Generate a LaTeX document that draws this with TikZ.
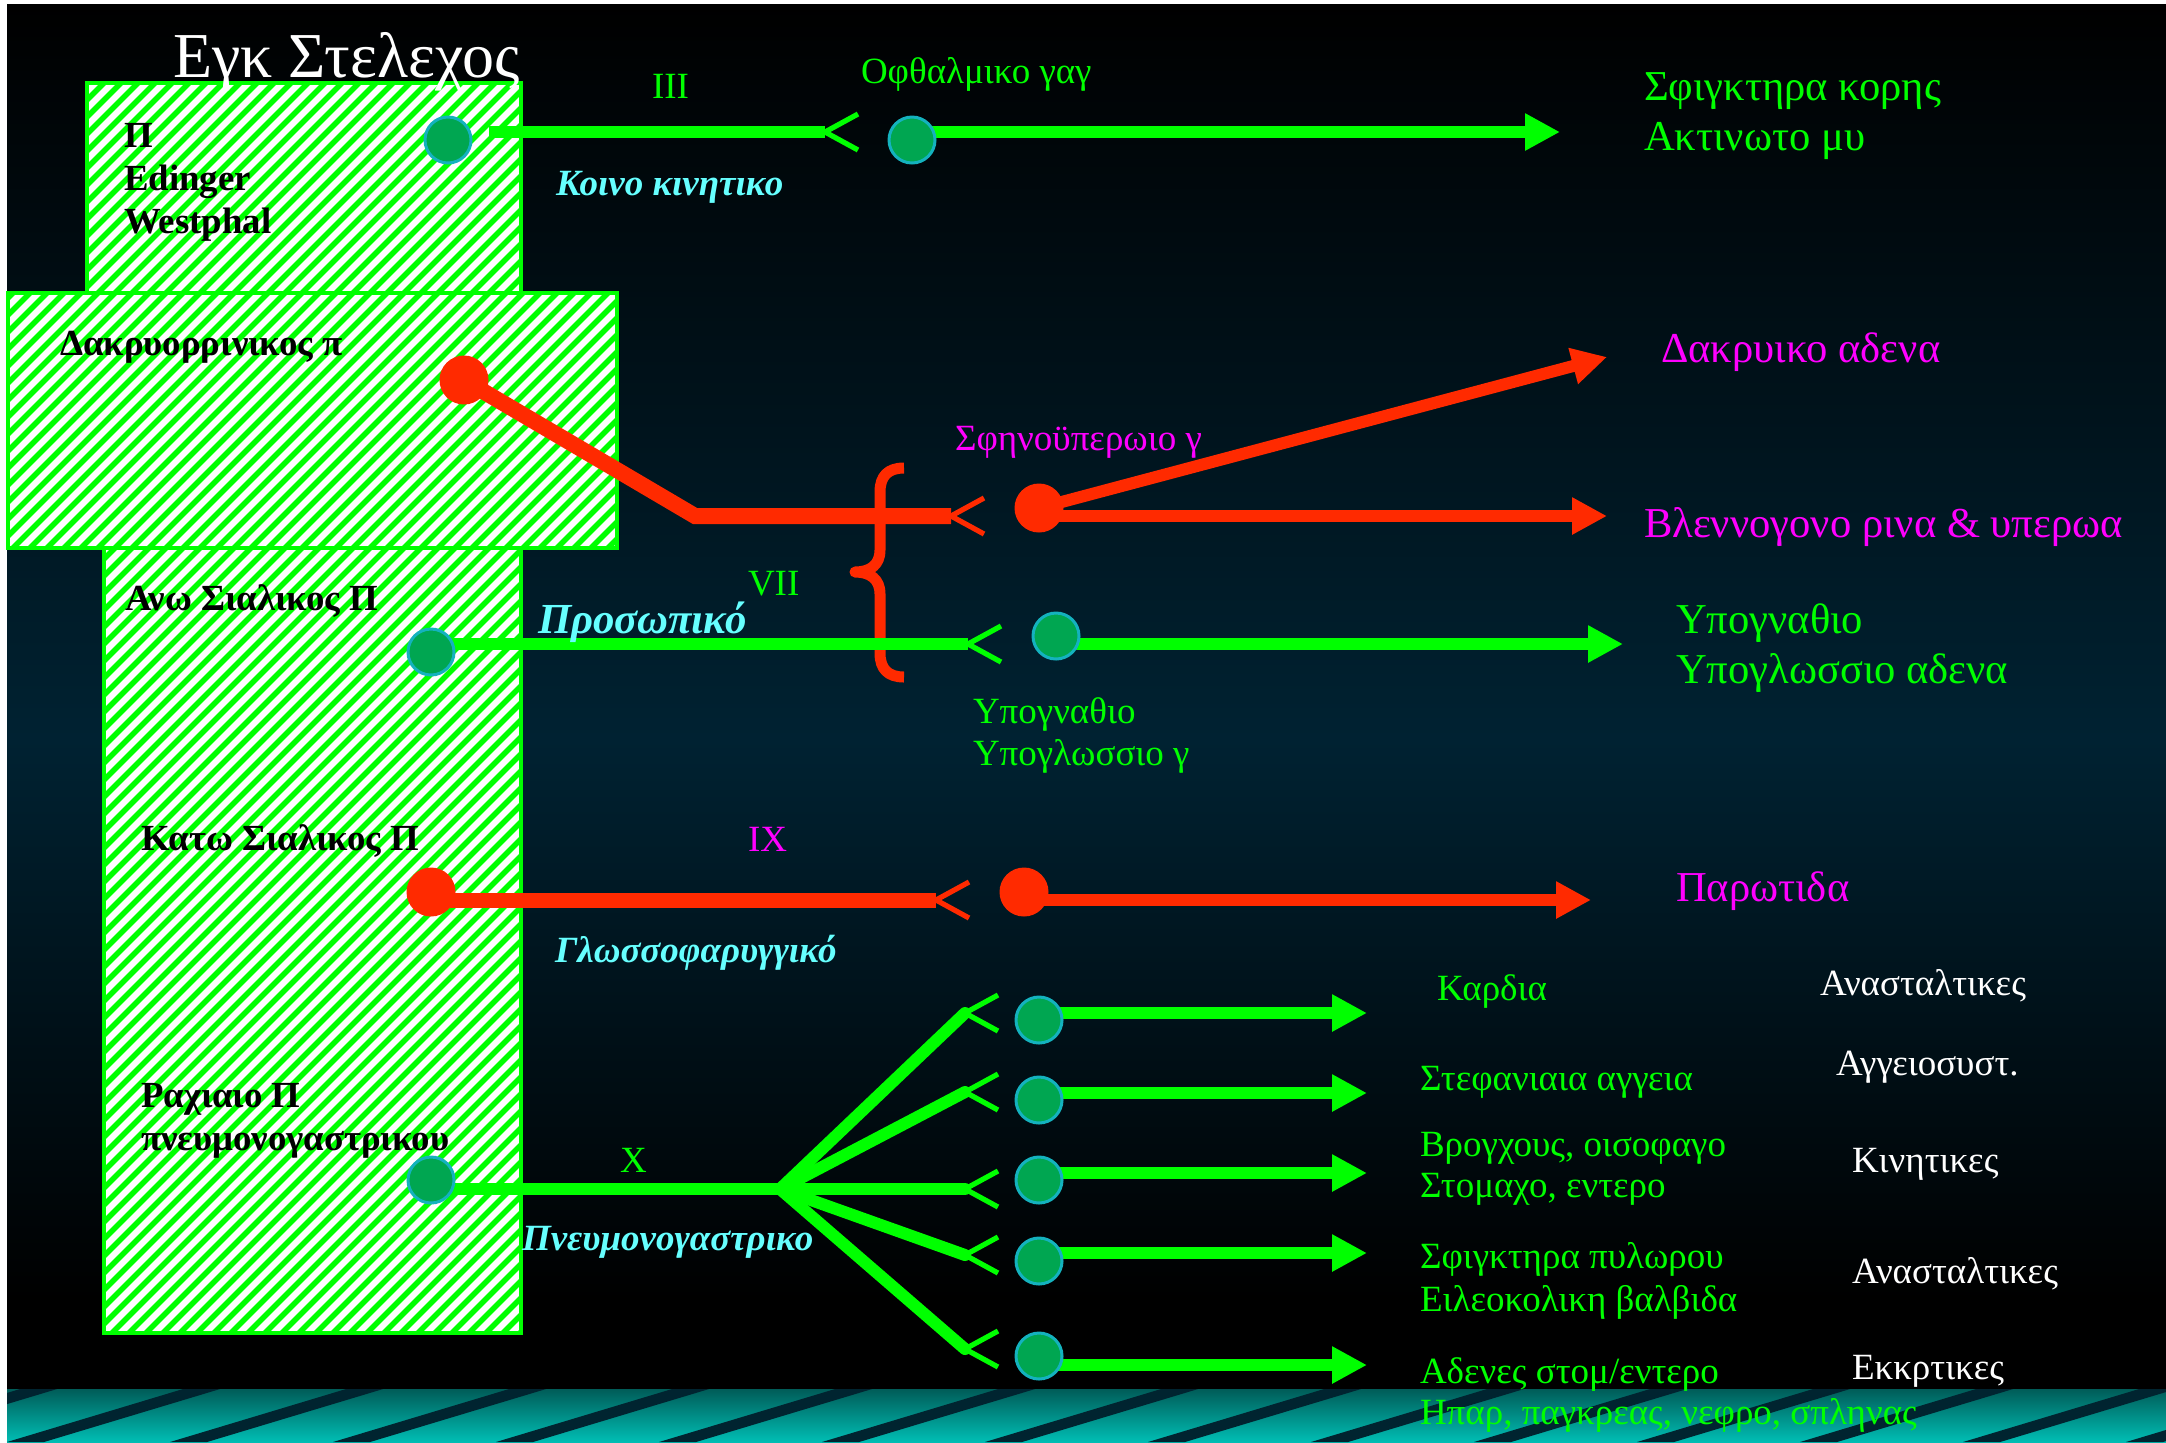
\documentclass[tikz,border=0pt]{standalone}
\usepackage{fontspec}
\setmainfont{Liberation Serif}
\usetikzlibrary{arrows.meta}
\definecolor{ngreen}{RGB}{0,255,0}
\definecolor{gfill}{RGB}{0,166,81}
\definecolor{gedge}{RGB}{20,178,190}
\definecolor{nred}{RGB}{255,42,0}
\definecolor{nmag}{RGB}{255,0,255}
\definecolor{ncyan}{RGB}{102,255,255}
\definecolor{bgmid}{RGB}{0,34,50}
\definecolor{bandtop}{RGB}{0,92,88}
\definecolor{bandbot}{RGB}{0,190,180}
\definecolor{stripecol}{RGB}{0,36,48}
\newcommand\myfs[1]{\fontsize{#1}{#1}\selectfont}
\newcommand\synapse[2]{\draw[#1] ([shift={(33,-18)}]#2) -- (#2) -- ([shift={(33,18)}]#2);}
\pgfdeclarelayer{bg}
\pgfdeclarelayer{wires}
\pgfsetlayers{bg,wires,main}
\tikzset{
 lbl/.style={anchor=base west, inner sep=0pt, outer sep=0pt},
 bk/.style={lbl, font={\myfs{18.4pt}\bfseries}, text=black},
 gsm/.style={lbl, font={\myfs{18.5pt}}, text=ngreen},
 msm/.style={lbl, font={\myfs{18.5pt}}, text=nmag},
 gbig/.style={lbl, font={\myfs{21.3pt}}, text=ngreen},
 mbig/.style={lbl, font={\myfs{21.3pt}}, text=nmag},
 cy/.style={lbl, font={\myfs{18.5pt}\bfseries\itshape}, text=ncyan},
 wt/.style={lbl, font={\myfs{18.5pt}}, text=white},
 gdot/.style={circle, inner sep=0pt, minimum size=23pt, fill=gfill, draw=gedge, line width=1.5pt},
 rdot/.style={circle, inner sep=0pt, minimum size=24.5pt, fill=nred},
 gax/.style={draw=ngreen, line width=5.75pt},
 rax/.style={draw=nred, line width=5.75pt},
 tipA/.style={-{Triangle[length=17.5pt,width=17.5pt]}},
 syng/.style={draw=ngreen, line width=2.6pt},
 synr/.style={draw=nred, line width=2.6pt},
 hatchborder/.style={draw=ngreen, line width=1.75pt},
}
\begin{document}
\begin{tikzpicture}[x=0.5pt,y=-0.5pt]
\useasboundingbox (0,0) rectangle (2166,1442);
\begin{pgfonlayer}{bg}
\fill[white] (0,0) rectangle (2166,1442);
\shade[top color=black,bottom color=bgmid] (7,4) rectangle (2166,740);
\shade[top color=bgmid,bottom color=black] (7,739) rectangle (2166,1300);
\fill[black] (7,1299) rectangle (2166,1389);
\shade[top color=bandtop,bottom color=bandbot] (7,1389) rectangle (2166,1442);
\begin{scope}
\clip (7,1389) rectangle (2166,1442);
\foreach \k in {-2,...,14}{
 \fill[stripecol] ({7+163*\k},1442) -- ++(37,0) -- ++(176,-53) -- ++(-37,0) -- cycle;
}
\end{scope}
% hatched cross shape
\begin{scope}
\clip (87,83) rectangle (521,293) (8,293) rectangle (617,548) (104,548) rectangle (521,1333);
\fill[white] (0,0) rectangle (700,1400);
\foreach \s in {0,17,...,2000} \draw[ngreen,line width=2.8pt] ({\s-1400},1400) -- (\s,0);
\end{scope}
\draw[hatchborder] (87,83) rectangle (521,293);
\draw[hatchborder] (8,293) rectangle (617,548);
\draw[hatchborder] (104,548) rectangle (521,1333);
\end{pgfonlayer}

% ganglia and nuclei
\node[gdot] (d1) at (448,140) {};
\node[gdot] (d2) at (912,140) {};
\node[rdot] (r1) at (464,380) {};
\node[rdot] (r2) at (1039,508) {};
\node[gdot] (d3) at (431,652) {};
\node[gdot] (d4) at (1056,636) {};
\node[rdot] (r3) at (431,892) {};
\node[rdot] (r4) at (1024,892) {};
\node[gdot] (d5) at (431,1180) {};
\node[gdot] (g1) at (1039,1020) {};
\node[gdot] (g2) at (1039,1100) {};
\node[gdot] (g3) at (1039,1180) {};
\node[gdot] (g4) at (1039,1261) {};
\node[gdot] (g5) at (1039,1356) {};

% connector points
\coordinate (d1o) at ([xshift=8pt]d1.east);
\coordinate (s1) at (825,132);
\coordinate (t1) at (1560,132);
\coordinate (b1) at (695,516);
\coordinate (s2) at (951,516);
\coordinate (t2) at (1607,357);
\coordinate (t3) at (1607,516);
\coordinate (s3) at (968,644);
\coordinate (t4) at (1623,644);
\coordinate (s4) at (936,900);
\coordinate (t5) at (1591,900);
\coordinate (bp) at (780,1189);
\coordinate (v1) at (965,1013);
\coordinate (v2) at (965,1092);
\coordinate (v3) at (965,1189);
\coordinate (v4) at (965,1255);
\coordinate (v5) at (965,1349);
\coordinate (u1) at (1367,1013);
\coordinate (u2) at (1367,1093);
\coordinate (u3) at (1367,1173);
\coordinate (u4) at (1367,1253);
\coordinate (u5) at (1367,1365);

\begin{pgfonlayer}{wires}
% III
\draw[gax] (d1o |- s1) -- (s1);
\synapse{syng}{s1}
\draw[gax,tipA] (d2.center |- t1) -- (t1);
% VII red
\draw[rax,line width=8pt,line join=miter] (r1.center) -- (b1) -- (s2);
\synapse{synr}{s2}
\draw[nred,line width=5.5pt,line join=round] (904,468) .. controls (888,468) and (880,476) .. (880,492) -- (880,550) .. controls (880,565) and (870,572) .. (855,572) .. controls (870,572) and (880,579) .. (880,594) -- (880,653) .. controls (880,669) and (888,677) .. (904,677);
\draw[rax,line width=6pt,tipA] (r2.center) -- (t2);
\draw[rax,tipA] (r2.center |- t3) -- (t3);
% VII green
\draw[gax,line width=6pt] (d3.center |- s3) -- (s3);
\synapse{syng}{s3}
\draw[gax,line width=6pt,tipA] (d4.center |- t4) -- (t4);
% IX
\draw[rax,line width=7.5pt] (r3.center |- s4) -- (s4);
\synapse{synr}{s4}
\draw[rax,tipA] (r4.center |- t5) -- (t5);
% X
\draw[gax,line width=6pt] (d5.center |- bp) -- (bp);
\foreach \v in {v1,v2,v3,v4,v5}{
 \draw[gax,line width=6pt,line cap=round] (bp) -- (\v);
 \synapse{syng}{\v}
}
\foreach \i in {1,...,5}{
 \draw[gax,tipA] (g\i.center |- u\i) -- (u\i);
}
\end{pgfonlayer}

% texts
\node[lbl,font={\myfs{32pt}},text=white] (title) at (173,77) {Εγκ Στελεχος};
\node[bk] (ewA) at (124,147) {Π};
\node[bk] (ewB) at (124,190) {Edinger};
\node[bk] (ewC) at (124,233) {Westphal};
\node[bk] (lacN) at (60,355) {Δακρυορρινικος π};
\node[bk] (supS) at (125,610) {Ανω Σιαλικος Π};
\node[bk] (infS) at (141,850) {Κατω Σιαλικος Π};
\node[bk] (vagA) at (141,1107) {Ραχιαιο Π};
\node[bk] (vagB) at (141,1150) {πνευμονογαστρικου};

\node[gsm] (nIII) at (652,98) {III};
\node[gsm] (nVII) at (748,595) {VII};
\node[msm] (nIX) at (748,851) {IX};
\node[gsm] (nX) at (620,1172) {X};

\node[gsm] (cilG) at (861,83) {Οφθαλμικο γαγ};
\node[msm] (pptG) at (955,450) {Σφηνοϋπερωιο γ};
\node[gsm] (smA) at (973,723) {Υπογναθιο};
\node[gsm] (smB) at (973,765) {Υπογλωσσιο γ};

\node[cy] (cnIII) at (556,195) {Κοινο κινητικο};
\node[cy,font={\myfs{21.4pt}\bfseries\itshape}] (cnVII) at (538,633) {Προσωπικό};
\node[cy] (cnIX) at (555,962) {Γλωσσοφαρυγγικό};
\node[cy] (cnX) at (522,1250) {Πνευμονογαστρικο};

\node[gbig] (eyeA) at (1644,100) {Σφιγκτηρα κορης};
\node[gbig] (eyeB) at (1644,150) {Ακτινωτο μυ};
\node[mbig] (lacG) at (1661,362) {Δακρυικο αδενα};
\node[mbig] (nasG) at (1644,537) {Βλεννογονο ρινα \& υπερωα};
\node[gbig] (salA) at (1676,633) {Υπογναθιο};
\node[gbig] (salB) at (1676,683) {Υπογλωσσιο αδενα};
\node[mbig] (parG) at (1676,901) {Παρωτιδα};

\node[gsm] (vg1) at (1437,1000) {Καρδια};
\node[gsm] (vg2) at (1420,1090) {Στεφανιαια αγγεια};
\node[gsm] (vg3a) at (1420,1156) {Βρογχους, οισοφαγο};
\node[gsm] (vg3b) at (1420,1197) {Στομαχο, εντερο};
\node[gsm] (vg4a) at (1420,1268) {Σφιγκτηρα πυλωρου};
\node[gsm] (vg4b) at (1420,1311) {Ειλεοκολικη βαλβιδα};
\node[gsm] (vg5a) at (1420,1383) {Αδενες στομ/εντερο};
\node[gsm] (vg5b) at (1420,1424) {Ηπαρ, παγκρεας, νεφρο, σπληνας};

\node[wt] (ef1) at (1820,995) {Ανασταλτικες};
\node[wt] (ef2) at (1836,1075) {Αγγειοσυστ.};
\node[wt] (ef3) at (1852,1172) {Κινητικες};
\node[wt] (ef4) at (1852,1283) {Ανασταλτικες};
\node[wt] (ef5) at (1852,1379) {Εκκρτικες};
\end{tikzpicture}
\end{document}
